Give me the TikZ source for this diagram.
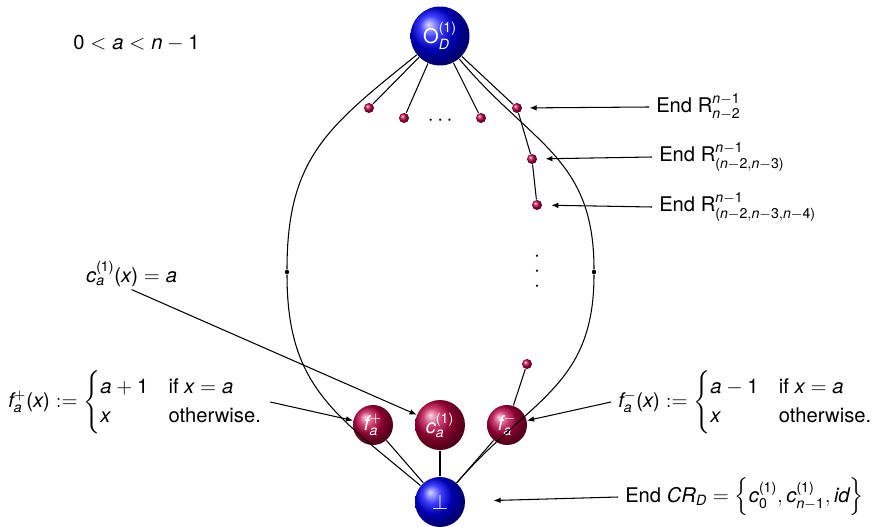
\documentclass[tikz,border=0pt]{standalone}
\usepackage{amsmath}
\usepackage{fontspec}
\setmainfont{TeX Gyre Heros}
\setsansfont{TeX Gyre Heros}
\usetikzlibrary{arrows.meta}

% sans letters and digits in math
\edef\herosfam{\rmdefault}
\DeclareSymbolFont{sfletters}{TU}{\herosfam}{m}{it}
\DeclareSymbolFont{sfdigits}{TU}{\herosfam}{m}{n}
\newcount\lettercnt
\newcommand{\sansmathsetup}{%
  \lettercnt=`a
  \loop \Umathcode\lettercnt=7 \symsfletters \lettercnt
    \ifnum\lettercnt<`z \advance\lettercnt by 1 \repeat
  \lettercnt=`A
  \loop \Umathcode\lettercnt=7 \symsfletters \lettercnt
    \ifnum\lettercnt<`Z \advance\lettercnt by 1 \repeat
  \lettercnt=`0
  \loop \Umathcode\lettercnt=7 \symsfdigits \lettercnt
    \ifnum\lettercnt<`9 \advance\lettercnt by 1 \repeat
  \Umathcode`(=4 \symsfdigits `(
  \Umathcode`)=5 \symsfdigits `)}

\begin{document}
\sansmathsetup
\fontsize{11.5pt}{14pt}\selectfont
\begin{tikzpicture}[x=0.02cm, y=-0.02cm, line width=0.6pt,
    blueball/.style={circle, ball color=blue, text=white, inner sep=0pt},
    redball/.style={circle, ball color=purple, text=white, inner sep=0pt},
    bead/.style={circle, ball color=purple, minimum size=0.2cm, inner sep=0pt},
    dot/.style={circle, fill=black, minimum size=2.5pt, inner sep=0pt},
    lbl/.style={anchor=west},
    arr/.style={-{Latex[length=4pt,width=3.2pt]}}]
            \useasboundingbox (0,0) rectangle (872,527);

            % Define nodes
            \node[blueball, minimum size=1.18cm] (top) at (440,36) {$\mathrm{O}_D^{(1)}$};
            \node[blueball, minimum size=1cm] (bot) at (440,502) {$\perp$};
            \node[redball, minimum size=1cm] (ca) at (440,425) {$c_a^{(1)}$};
            \node[redball, minimum size=0.8cm] (fp) at (373,425) {$f_a^+$};
            \node[redball, minimum size=0.8cm] (fm) at (507,425) {$f_a^-$};

            \node[bead] (b1) at (369,108) {};
            \node[bead] (b2) at (404,118) {};
            \node[bead] (b3) at (481,118) {};
            \node[bead] (b4) at (517,108) {};
            \node[bead] (b5) at (532,159) {};
            \node[bead] (b6) at (537,205) {};
            \node[bead] (b7) at (527,364) {};
            \node (hdots) at (442,121) {$\cdots$};
            \node[align=center, inner sep=0pt] (vdots) at (537,272) {$\cdot$\\[-5.5pt]$\cdot$\\[-5.5pt]$\cdot$};
            \node[dot] (lm) at (287,272) {};
            \node[dot] (rm) at (594,272) {};

            % Labels
            \node[lbl] (cond) at (66,43) {$0<a<n-1$};
            \node[lbl, inner sep=1.5pt] (cdef) at (83,274) {$c_a^{(1)}(x)=a$};
            \node[lbl] (fpdef) at (1,402) {$f_a^+(x) := \begin{cases} a+1 & \text{if } x=a\\ x & \text{otherwise.}\end{cases}$};
            \node[lbl] (fmdef) at (611,402) {$f_a^-(x) := \begin{cases} a-1 & \text{if } x=a\\ x & \text{otherwise.}\end{cases}$};
            \node[lbl] (r1) at (649,107) {End $\mathrm{R}_{n-2}^{n-1}$};
            \node[lbl] (r2) at (652,157) {End $\mathrm{R}_{(n-2,n-3)}^{n-1}$};
            \node[lbl] (r3) at (652,207) {End $\mathrm{R}_{(n-2,n-3,n-4)}^{n-1}$};
            \node[lbl] (crd) at (618,497) {End $CR_D = \left\{c_0^{(1)}, c_{n-1}^{(1)}, id\right\}$};

            % Draw edges
            \draw (top) -- (b1);
            \draw (top) -- (b2);
            \draw (top) -- (b3);
            \draw (top) -- (b4);
            \draw (b4) -- (b5);
            \draw (b5) -- (b6);
            \draw (b7) -- (fm);
            \draw (bot) -- (fp);
            \draw (bot) -- (ca);
            \draw (bot) -- (fm);

            \draw (top) to[out=219, in=90, looseness=1.15] (lm) to[out=-90, in=140, looseness=1.15] (bot);
            \draw (top) to[out=-50, in=90, looseness=1.15] (rm) to[out=-90, in=49, looseness=1.15] (bot);

            % Arrows to the labels
            \draw[arr, shorten >=4pt] (r1.west) -- (b4);
            \draw[arr, shorten >=4.5pt] (r2.west) -- (b5);
            \draw[arr, shorten >=5pt] (r3.west) -- (b6);
            \draw[arr, shorten >=16pt] (crd.west) -- (bot);
            \draw[arr] (cdef.south) -- (ca);
            \draw[arr] (fpdef.east) -- (fp);
            \draw[arr] (fmdef.west) -- (fm);

        \end{tikzpicture}
\end{document}
